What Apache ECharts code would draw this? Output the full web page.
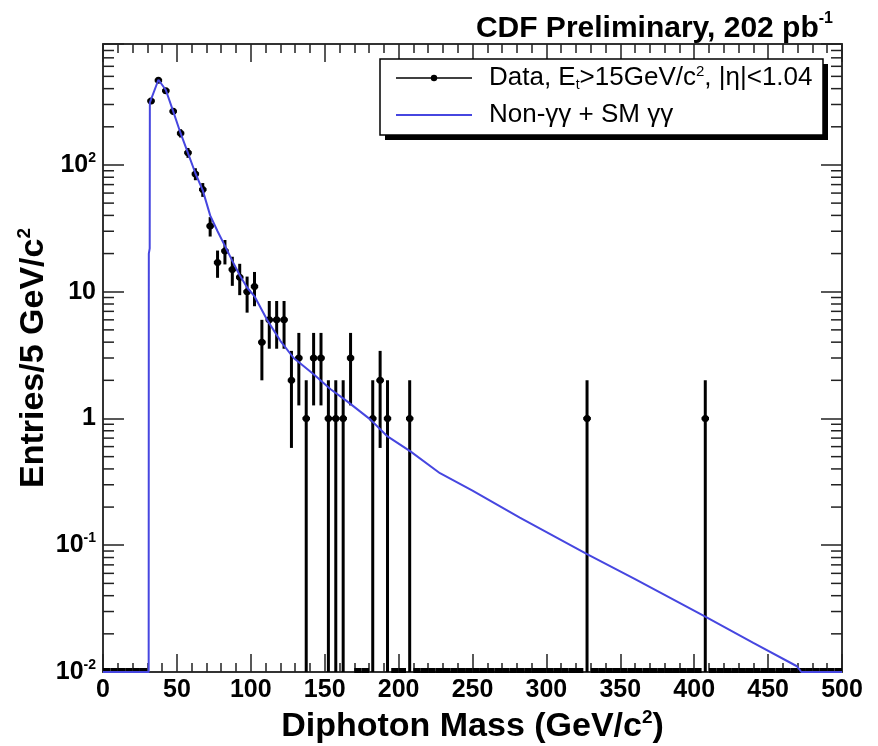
<!DOCTYPE html>
<html><head><meta charset="utf-8">
<script src="https://cdn.jsdelivr.net/npm/echarts@6/dist/echarts.min.js"></script>
<style>html,body{margin:0;padding:0;background:#fff}#c{width:878px;height:746px}</style>
</head><body><div id="c"></div>
<script>
// ---- data ----
const binCenters = [2.5,7.5,12.5,17.5,22.5,27.5,32.5,37.5,42.5,47.5,52.5,57.5,62.5,67.5,72.5,77.5,82.5,87.5,92.5,97.5,
  102.5,107.5,112.5,117.5,122.5,127.5,132.5,137.5,142.5,147.5,152.5,157.5,162.5,167.5,172.5,177.5,182.5,187.5,192.5,197.5,
  202.5,207.5,212.5,217.5,222.5,227.5,232.5,237.5,242.5,247.5,252.5,257.5,262.5,267.5,272.5,277.5,282.5,287.5,292.5,297.5,
  302.5,307.5,312.5,317.5,322.5,327.5,332.5,337.5,342.5,347.5,352.5,357.5,362.5,367.5,372.5,377.5,382.5,387.5,392.5,397.5,
  402.5,407.5,412.5,417.5,422.5,427.5,432.5,437.5,442.5,447.5,452.5,457.5,462.5,467.5,472.5,477.5,482.5,487.5,492.5,497.5];
const counts = [0,0,0,0,0,0,320,465,385,265,178,125,85,64,33,17,21,15,13,10,
  11,4,6,6,6,2,3,1,3,3,1,1,1,3,0,0,1,2,1,0,
  0,1,0,0,0,0,0,0,0,0,0,0,0,0,0,0,0,0,0,0,
  0,0,0,0,0,1,0,0,0,0,0,0,0,0,0,0,0,0,0,0,
  0,1,0,0,0,0,0,0,0,0,0,0,0,0,0,0,0,0,0,0];
const binHalfWidth = 2.5;
const curveX = [0,30.9,31.0,31.6,31.7,37.5,42.5,47.5,52.5,57.5,62.5,67.5,72.5,77.5,82.5,87.5,92.5,97.5,102.5,
  111,120,129,142.5,154,165,181,192,208,228,250,282,327.5,360,407.5,440,469.5,472.5,500];
const curveY = [0.01,0.01,20,22,310,470,390,265,178,124,86,63,40,30,23,17.5,13.5,10.8,9.2,
  6.0,4.1,3.0,2.23,1.70,1.37,0.98,0.73,0.55,0.37,0.27,0.165,0.085,0.054,0.0273,0.017,0.0111,0.01,0.01];
const xMin = 0, xMax = 500, xInterval = 50;
const yMin = 0.01, yMax = 900;
const yMinorTicks = [];
[0.01,0.1,1,10,100].forEach(d => { for (let k = 2; k <= 9; k++) { const v = d * k; if (v < yMax) yMinorTicks.push(+v.toPrecision(3)); } });
const seriesNames = ['Data', 'Non-γγ + SM γγ'];

// ---- build ----
const FONT = 'Liberation Sans, Arial, Helvetica, sans-serif';
const nonZero = [], zeroBins = [];
binCenters.forEach((x, i) => { if (counts[i] > 0) nonZero.push([x, counts[i]]); else zeroBins.push([x, yMin]); });
const curve = curveX.map((x, i) => [x, curveY[i]]);

const chart = echarts.init(document.getElementById('c'), null, {renderer: 'canvas'});

function yLabel(v) {
  const lg = Math.log10(v), e = Math.round(lg);
  if (Math.abs(lg - e) > 1e-6) return '';
  if (e === 0) return '{b|1}';
  if (e === 1) return '{b|10}';
  return '{b|10}{s|' + e + '}';
}
const axisLineStyle = {color: '#333', width: 2};
const tickStyle = {color: '#222', width: 1.5};
const labRich = {
  b: {fontFamily: FONT, fontWeight: 'bold', fontSize: 25, color: '#000', lineHeight: 28},
  s: {fontFamily: FONT, fontWeight: 'bold', fontSize: 14, color: '#000', lineHeight: 14, verticalAlign: 'top'}
};
const nameRich = {
  t: {fontFamily: FONT, fontWeight: 'bold', fontSize: 34, color: '#000', lineHeight: 38},
  s: {fontFamily: FONT, fontWeight: 'bold', fontSize: 19, color: '#000', lineHeight: 19, verticalAlign: 'top'}
};

const option = {
  backgroundColor: '#fff',
  animation: false,
  title: {
    text: '{a|CDF Preliminary, 202 pb}{s|-1}',
    right: 40, top: 6,
    textStyle: {rich: {
      a: {fontFamily: FONT, fontWeight: 'bold', fontSize: 30, color: '#000', lineHeight: 36},
      s: {fontFamily: FONT, fontWeight: 'bold', fontSize: 16, color: '#000', lineHeight: 16, verticalAlign: 'top'}
    }}
  },
  grid: {left: 103, right: 36, top: 44, bottom: 74, containLabel: false, outerBoundsMode: 'none'},
  graphic: [
    {type: 'rect', z: 100, shape: {x: 385, y: 64, width: 443, height: 76}, style: {fill: '#000'}, silent: true},
    {type: 'rect', z: 101, shape: {x: 380, y: 59, width: 443, height: 76}, style: {fill: '#fff', stroke: '#000', lineWidth: 1.5}, silent: true}
  ],
  legend: {
    orient: 'vertical', left: 395, top: 64, z: 110,
    padding: 0, itemGap: 10,
    itemWidth: 76, itemHeight: 8,
    data: [
      {name: seriesNames[0], lineStyle: {color: '#000', width: 1.5, opacity: 1}, itemStyle: {color: '#000'}},
      {name: seriesNames[1], itemStyle: {opacity: 0}}
    ],
    formatter: function (name) {
      if (name === seriesNames[0]) return '{n|Data, E}{sub|t}{n|>15GeV/c}{sup|2}{n|, |η|<1.04}';
      return '{n|Non-γγ + SM γγ}';
    },
    textStyle: {padding: [0, 0, 0, 12], rich: {
      n: {fontFamily: FONT, fontSize: 26, color: '#000', lineHeight: 28},
      sub: {fontFamily: FONT, fontSize: 14, color: '#000', lineHeight: 14, verticalAlign: 'bottom'},
      sup: {fontFamily: FONT, fontSize: 15, color: '#000', lineHeight: 15, verticalAlign: 'top'}
    }}
  },
  xAxis: [{
    type: 'value', min: xMin, max: xMax, interval: xInterval, position: 'bottom',
    axisLine: {show: true, onZero: false, lineStyle: axisLineStyle},
    axisTick: {show: true, inside: true, length: 18, lineStyle: tickStyle},
    minorTick: {show: true, splitNumber: 5, length: 9, lineStyle: tickStyle},
    splitLine: {show: false}, minorSplitLine: {show: false},
    axisLabel: {margin: 6, fontFamily: FONT, fontWeight: 'bold', fontSize: 25, color: '#000'},
    name: '{t|Diphoton Mass (GeV/c}{s|2}{t|)}', nameLocation: 'middle', nameGap: 30,
    nameTextStyle: {rich: nameRich}
  }, {
    type: 'value', min: xMin, max: xMax, interval: xInterval, position: 'top',
    axisLine: {show: true, onZero: false, lineStyle: axisLineStyle},
    axisTick: {show: true, inside: true, length: 18, lineStyle: tickStyle},
    minorTick: {show: true, splitNumber: 5, length: 9, lineStyle: tickStyle},
    splitLine: {show: false}, axisLabel: {show: false}
  }],
  yAxis: [{
    type: 'log', logBase: 10, min: yMin, max: yMax, position: 'left',
    axisLine: {show: true, onZero: false, lineStyle: axisLineStyle},
    axisTick: {show: true, inside: true, length: 21, lineStyle: tickStyle},
    splitLine: {show: false},
    axisLabel: {margin: 7, formatter: yLabel, rich: labRich},
    name: '{t|Entries/5 GeV/c}{s|2}', nameLocation: 'middle', nameGap: 50, nameRotate: 90,
    nameMoveOverlap: false,
    nameTextStyle: {rich: nameRich}
  }, {
    type: 'log', logBase: 10, min: yMin, max: yMax, position: 'right',
    axisLine: {show: true, onZero: false, lineStyle: axisLineStyle},
    axisTick: {show: true, inside: true, length: 21, lineStyle: tickStyle},
    splitLine: {show: false}, axisLabel: {show: false}
  }],
  series: [
    {
      name: seriesNames[0], type: 'line', data: nonZero, z: 4,
      symbol: 'circle', symbolSize: 7, showSymbol: true,
      lineStyle: {opacity: 0, width: 0}, itemStyle: {color: '#000'},
      emphasis: {disabled: true}, silent: true
    },
    {
      name: seriesNames[0], type: 'custom', data: nonZero, z: 3, silent: true,
      renderItem: function (params, api) {
        const x = api.value(0), n = api.value(1), e = Math.sqrt(n);
        const lo = Math.max(n - e, yMin), hi = n + e;
        const pT = api.coord([x, hi]), pB = api.coord([x, lo]);
        const pL = api.coord([x - binHalfWidth, n]), pR = api.coord([x + binHalfWidth, n]);
        return {type: 'group', children: [
          {type: 'line', shape: {x1: pT[0], y1: pT[1], x2: pB[0], y2: pB[1]}, style: {stroke: '#000', lineWidth: 3}},
          {type: 'line', shape: {x1: pL[0], y1: pL[1], x2: pR[0], y2: pR[1]}, style: {stroke: '#000', lineWidth: 3}}
        ]};
      }
    },
    {
      name: 'zero', type: 'custom', data: zeroBins, z: 3, silent: true,
      renderItem: function (params, api) {
        const x = api.value(0);
        const pL = api.coord([x - binHalfWidth, yMin]), pR = api.coord([x + binHalfWidth, yMin]);
        return {type: 'line', shape: {x1: pL[0], y1: pL[1] - 1.5, x2: pR[0], y2: pR[1] - 1.5}, style: {stroke: '#000', lineWidth: 5}};
      }
    },
    {
      name: 'yMinorTicks', type: 'custom', data: yMinorTicks.map(v => [xMin, v]), z: 5, silent: true,
      renderItem: function (params, api) {
        const p = api.coord([xMin, api.value(1)]);
        const cs = params.coordSys;
        return {type: 'group', children: [
          {type: 'line', shape: {x1: cs.x, y1: p[1], x2: cs.x + 11, y2: p[1]}, style: {stroke: '#222', lineWidth: 1.5}},
          {type: 'line', shape: {x1: cs.x + cs.width - 11, y1: p[1], x2: cs.x + cs.width, y2: p[1]}, style: {stroke: '#222', lineWidth: 1.5}}
        ]};
      }
    },
    {
      name: seriesNames[1], type: 'line', data: curve, z: 6, symbol: 'none', showSymbol: false,
      lineStyle: {color: '#4646e0', width: 2}, itemStyle: {color: '#4646e0'},
      emphasis: {disabled: true}, silent: true
    }
  ]
};
chart.setOption(option);
</script>
</body></html>
